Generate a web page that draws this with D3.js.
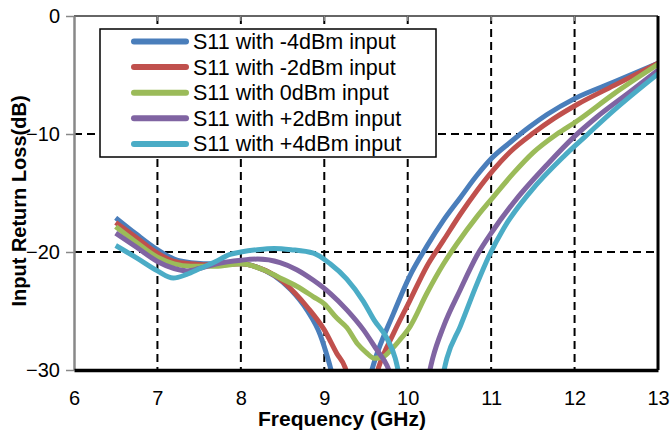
<!DOCTYPE html>
<html>
<head>
<meta charset="utf-8">
<script src="https://cdn.jsdelivr.net/npm/d3@7"></script>
<style>
  body { margin: 0; background: #fff; }
  text { font-family: "Liberation Sans", Arial, sans-serif; fill: #000; }
</style>
</head>
<body>
<script>
// data: [frequency GHz, S11 dB], null = below -30 (off chart)
const freqTicks = [6, 7, 8, 9, 10, 11, 12, 13];
const dbTicks = [0, -10, -20, -30];
const seriesNames = ["S11 with -4dBm input", "S11 with -2dBm input", "S11 with 0dBm input",
                     "S11 with +2dBm input", "S11 with +4dBm input"];
const seriesColors = ["#4a7ebb", "#c0504d", "#9bbb59", "#8064a2", "#4bacc6"];

const s11m4 = [[6.5,-17.1],[6.75,-18.5],[7.0,-19.8],[7.2,-20.6],[7.4,-20.9],[7.7,-21.0],[8.0,-21.0],
  [8.2,-21.3],[8.4,-22.0],[8.6,-23.2],[8.8,-25.0],[8.95,-27.0],[9.05,-29.2],[9.1,-30.5], null,
  [9.55,-30.5],[9.6,-29.3],[9.83,-25.2],[10.02,-22.1],[10.23,-19.5],[10.43,-17.3],[10.63,-15.4],
  [10.83,-13.5],[11.0,-12.1],[11.23,-10.7],[11.47,-9.35],[11.67,-8.35],[12.0,-7.0],[12.47,-5.6],[13.0,-4.0]];
const s11m2 = [[6.5,-17.5],[6.75,-18.8],[7.0,-20.1],[7.2,-20.8],[7.4,-21.0],[7.7,-21.1],[8.0,-21.0],
  [8.2,-21.3],[8.47,-22.3],[8.65,-23.5],[8.8,-24.7],[9.0,-26.6],[9.15,-28.6],[9.25,-29.8],[9.28,-30.5], null,
  [9.62,-30.5],[9.65,-29.8],[9.83,-26.9],[10.02,-24.2],[10.23,-21.2],[10.43,-19.0],[10.63,-16.8],
  [10.83,-14.8],[11.02,-13.1],[11.23,-11.5],[11.51,-9.9],[11.75,-8.7],[12.03,-7.5],[12.47,-5.9],[13.0,-4.0]];
const s110 = [[6.5,-17.85],[6.75,-19.2],[7.0,-20.45],[7.2,-21.0],[7.4,-21.2],[7.7,-21.2],[8.0,-21.0],
  [8.27,-21.5],[8.47,-22.2],[8.67,-22.9],[8.87,-23.8],[9.0,-24.4],[9.15,-25.6],[9.27,-26.4],[9.4,-27.8],
  [9.5,-28.5],[9.6,-29.0],[9.7,-28.9],[9.8,-28.3],[9.9,-27.5],[10.03,-26.3],[10.23,-23.5],[10.43,-21.0],
  [10.59,-19.3],[10.83,-17.0],[11.03,-15.3],[11.27,-13.3],[11.5,-11.6],[11.79,-10.0],[12.03,-8.9],
  [12.47,-6.6],[13.0,-4.1]];
const s11p2 = [[6.5,-18.4],[6.75,-19.6],[7.0,-20.8],[7.2,-21.4],[7.35,-21.6],[7.5,-21.4],[7.71,-21.0],
  [8.0,-20.7],[8.2,-20.6],[8.47,-20.9],[8.67,-21.5],[8.87,-22.4],[9.07,-23.5],[9.27,-24.9],[9.47,-26.6],
  [9.63,-28.3],[9.75,-29.6],[9.8,-30.5], null,
  [10.25,-30.5],[10.3,-29.0],[10.43,-26.3],[10.63,-23.2],[10.83,-20.3],[11.02,-18.2],[11.27,-15.8],
  [11.67,-12.6],[12.0,-10.2],[12.26,-8.6],[12.67,-6.4],[13.0,-4.6]];
const s11p4 = [[6.5,-19.45],[6.75,-20.5],[7.0,-21.6],[7.19,-22.2],[7.35,-21.9],[7.51,-21.4],[7.7,-20.8],
  [7.87,-20.2],[8.0,-20.0],[8.2,-19.8],[8.4,-19.7],[8.6,-19.8],[8.87,-20.1],[9.07,-21.0],[9.27,-22.3],
  [9.47,-24.2],[9.6,-25.8],[9.75,-27.3],[9.85,-29.0],[9.9,-30.5], null,
  [10.42,-30.5],[10.47,-29.0],[10.63,-26.3],[10.83,-22.7],[10.97,-20.4],[11.15,-18.0],[11.47,-14.9],
  [11.87,-11.9],[12.13,-10.2],[12.47,-8.0],[13.0,-4.9]];
const allSeries = [s11m4, s11m2, s110, s11p2, s11p4];

const width = 672, height = 432;
const margin = {left: 74, right: 14, top: 16, bottom: 62};

const svg = d3.select("body").append("svg")
  .attr("width", width)
  .attr("height", height);

const x = d3.scaleLinear().domain([6, 13]).range([margin.left, width - margin.right]);
const y = d3.scaleLinear().domain([-30, 0]).range([height - margin.bottom, margin.top]);

svg.append("clipPath").attr("id", "plot")
  .append("rect")
  .attr("x", x(6)).attr("y", y(0))
  .attr("width", x(13) - x(6)).attr("height", y(-30) - y(0));

// dashed grid
const grid = svg.append("g").attr("stroke", "#000").attr("stroke-width", 2).attr("stroke-dasharray", "8,5");
grid.selectAll(".vg").data(freqTicks.slice(1, -1)).join("line")
  .attr("x1", d => x(d)).attr("x2", d => x(d))
  .attr("y1", y(0)).attr("y2", y(-30));
grid.selectAll(".hg").data([-10, -20]).join("line")
  .attr("x1", x(6)).attr("x2", x(13))
  .attr("y1", d => y(d)).attr("y2", d => y(d));

// the five traces
const line = d3.line()
  .defined(d => d !== null)
  .x(d => x(d[0]))
  .y(d => y(d[1]))
  .curve(d3.curveMonotoneX);

svg.append("g").attr("clip-path", "url(#plot)")
  .selectAll("path").data(allSeries).join("path")
  .attr("fill", "none")
  .attr("stroke", (d, i) => seriesColors[i])
  .attr("stroke-width", 5)
  .attr("stroke-linejoin", "round")
  .attr("d", line);

// frame
svg.append("line").attr("x1", x(6)).attr("x2", x(13)).attr("y1", y(0)).attr("y2", y(0))
  .attr("stroke", "#333").attr("stroke-width", 1.5);
svg.selectAll(".tt").data(freqTicks.slice(1, -1)).join("line")
  .attr("x1", d => x(d)).attr("x2", d => x(d))
  .attr("y1", y(0)).attr("y2", y(0) + 5)
  .attr("stroke", "#888").attr("stroke-width", 1.5);
svg.append("line").attr("x1", x(13)).attr("x2", x(13)).attr("y1", y(0)).attr("y2", y(-30))
  .attr("stroke", "#000").attr("stroke-width", 3);

// y axis
const yAxis = svg.append("g")
  .attr("transform", `translate(${x(6)},0)`)
  .call(d3.axisLeft(y).tickValues(dbTicks).tickSize(8).tickPadding(6).tickSizeOuter(0));
yAxis.select(".domain").attr("stroke", "#888").attr("stroke-width", 2.5);
yAxis.selectAll(".tick line").attr("stroke", "#888").attr("stroke-width", 1.5);
yAxis.selectAll(".tick text").style("font-size", "20px").attr("fill", "#000")
  .attr("font-family", null);

// x axis
const xAxis = svg.append("g")
  .attr("transform", `translate(0,${y(-30)})`)
  .call(d3.axisBottom(x).tickValues(freqTicks).tickFormat(d3.format("d"))
    .tickSize(0).tickPadding(21).tickSizeOuter(0));
xAxis.select(".domain").attr("stroke", "#000").attr("stroke-width", 3.5);
xAxis.selectAll(".tick text").style("font-size", "20px").attr("fill", "#000")
  .attr("font-family", null);

// axis titles
svg.append("text")
  .attr("x", 342)
  .attr("y", 426)
  .attr("text-anchor", "middle")
  .style("font-size", "21px").style("font-weight", "bold")
  .text("Frequency (GHz)");

svg.append("text")
  .attr("transform", "translate(26,201) rotate(-90)")
  .attr("text-anchor", "middle")
  .style("font-size", "20px").style("font-weight", "bold")
  .text("Input Return Loss(dB)");

// legend
const legend = svg.append("g").attr("transform", "translate(100,29)");
legend.append("rect")
  .attr("width", 336).attr("height", 128)
  .attr("fill", "#fff").attr("stroke", "#000").attr("stroke-width", 1.5);
const rows = legend.selectAll(".row").data(seriesNames).join("g")
  .attr("transform", (d, i) => `translate(0,${12.5 + i * 25.6})`);
rows.append("line")
  .attr("x1", 34).attr("x2", 86)
  .attr("stroke", (d, i) => seriesColors[i])
  .attr("stroke-width", 6)
  .attr("stroke-linecap", "round");
rows.append("text")
  .attr("x", 93).attr("y", 7.5)
  .style("font-size", "21.5px")
  .text(d => d);
</script>
</body>
</html>
